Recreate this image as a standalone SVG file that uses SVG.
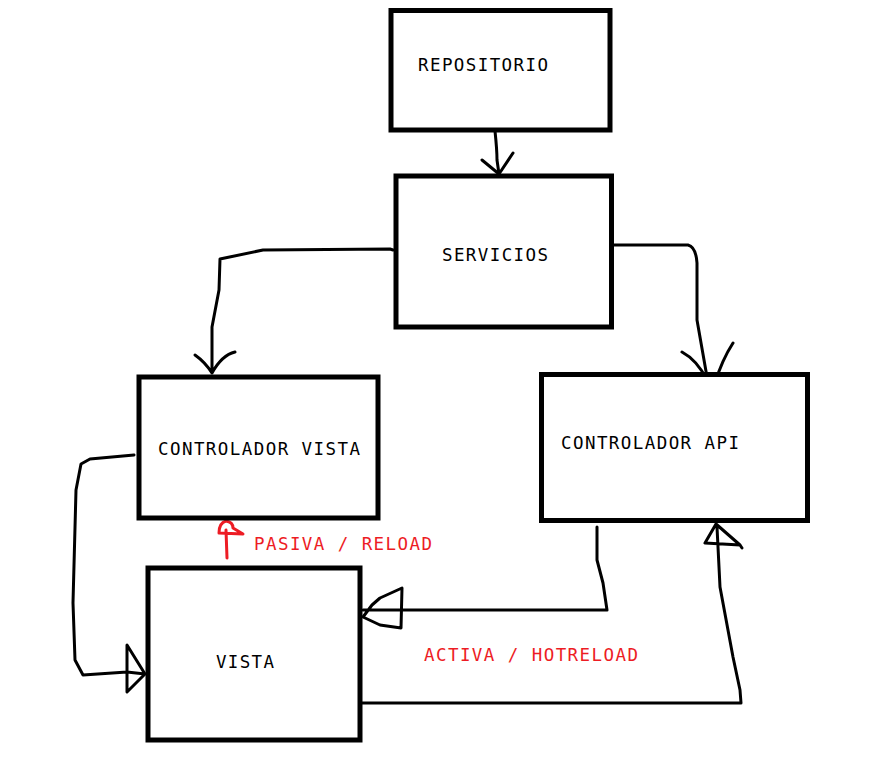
<svg xmlns="http://www.w3.org/2000/svg" width="889" height="784" viewBox="0 0 889 784">
<style>
.box{fill:#fff;stroke:#000;stroke-width:5}
.t{font-family:"DejaVu Sans Mono","Liberation Mono",monospace;font-size:17.5px;fill:#000}
.r{fill:#ed1c24}
.c{fill:none;stroke:#000;stroke-width:3;stroke-linecap:round;stroke-linejoin:round}
.cr{fill:none;stroke:#ed1c24;stroke-width:3;stroke-linecap:round;stroke-linejoin:round}
</style>
<rect width="889" height="784" fill="#fff"/>
<g id="connectors">
<path class="c" d="M495,131 Q497,150 497,160 L499,174 M482,160 L499,174 L513,153"/>
<path class="c" d="M393,250 L390,249 L263,250 L220,259 L219,290 L212,327 L212,373 M195,355 Q205,362 212,373 Q222,355 235,352"/>
<path class="c" d="M613,245 L688,245 Q696,247 697,263 L697,320 L707,377 M682,352 Q697,360 707,380 L715,383 Q722,360 733,343"/>
<path class="c" d="M134,455 L90,459 L81,464 L76,490 L73,603 L75,660 L83,675 L127,672 L145,674 M127,645 L145,674 L127,692 Z"/>
<path class="c" d="M597,527 L597,560 L603,583 L607,610 L363,610 M363,617 L372,605 L380,598 L402,588 L401,628 L380,625 Z"/>
<path class="c" d="M362,703 L741,703 L740,690 L733,657 L720,587 L717,527 M716,524 L705,543 L740,545 L742,548 M716,524 L740,545"/>
<path class="cr" d="M227,558 L226,530 M219,533 Q219,523 226,521 Q233,522 233,528 L243,534 L219,533"/>
</g>
<g id="repositorio">
<rect class="box" x="391" y="10.5" width="219" height="119.5"/>
<text class="t" x="418" y="71" textLength="130" lengthAdjust="spacing">REPOSITORIO</text>
</g>
<g id="servicios">
<rect class="box" x="396" y="176" width="215.5" height="151"/>
<text class="t" x="442" y="261" textLength="106" lengthAdjust="spacing">SERVICIOS</text>
</g>
<g id="controlador-vista">
<rect class="box" x="139" y="377" width="239" height="141"/>
<text class="t" x="158" y="455" textLength="202" lengthAdjust="spacing">CONTROLADOR VISTA</text>
</g>
<g id="controlador-api">
<rect class="box" x="541.5" y="374.5" width="266" height="146"/>
<text class="t" x="561" y="449" textLength="178" lengthAdjust="spacing">CONTROLADOR API</text>
</g>
<g id="vista">
<rect class="box" x="148" y="568" width="212" height="172"/>
<text class="t" x="216" y="668" textLength="58" lengthAdjust="spacing">VISTA</text>
</g>
<g id="labels">
<text class="t r" x="254" y="550" textLength="178" lengthAdjust="spacing">PASIVA / RELOAD</text>
<text class="t r" x="424" y="661" textLength="214" lengthAdjust="spacing">ACTIVA / HOTRELOAD</text>
</g>
</svg>
